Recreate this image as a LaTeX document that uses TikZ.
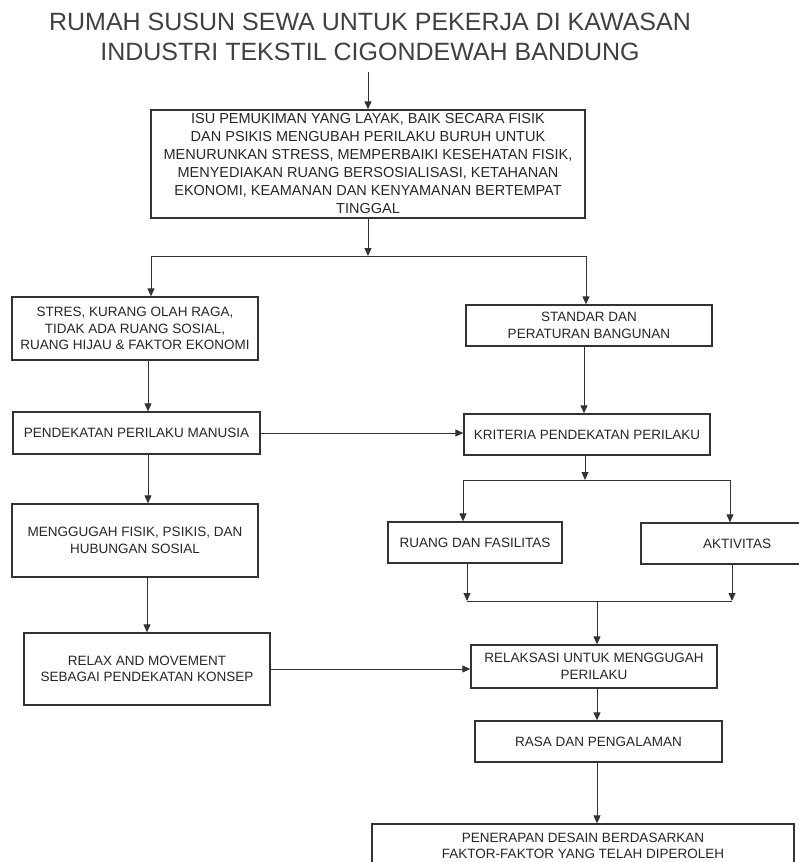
\documentclass[tikz,border=0pt]{standalone}
\usepackage{fontspec}
\setmainfont{Liberation Sans}
\usetikzlibrary{arrows.meta}
\tikzset{
  box/.style={draw=black!80, line width=1.3pt, inner sep=0pt, align=center,
    font=\fontsize{13.5}{16.5}\selectfont, text=black!85},
  arr/.style={line width=0.9pt, draw=black!80, -{Triangle[length=8pt,width=7pt]}},
  ln/.style={line width=0.9pt, draw=black!80},
}
\begin{document}
\begin{tikzpicture}[x=1pt,y=-1pt]
\useasboundingbox (0,0) rectangle (799,862);
% title
\node[align=center, inner sep=0pt, text=black!75, font=\fontsize{25}{30}\selectfont] (title) at (370,37)
  {RUMAH SUSUN SEWA UNTUK PEKERJA DI KAWASAN\\INDUSTRI TEKSTIL CIGONDEWAH BANDUNG};
\coordinate (t0) at (368,72);
% boxes
\node[box, minimum width=434, minimum height=108, font=\fontsize{14.5}{18}\selectfont] (isu) at (368,164)
  {ISU PEMUKIMAN YANG LAYAK, BAIK SECARA FISIK\\DAN PSIKIS MENGUBAH PERILAKU BURUH UNTUK\\MENURUNKAN STRESS, MEMPERBAIKI KESEHATAN FISIK,\\MENYEDIAKAN RUANG BERSOSIALISASI, KETAHANAN\\EKONOMI, KEAMANAN DAN KENYAMANAN BERTEMPAT\\TINGGAL};
\node[box, minimum width=246, minimum height=63] (stres) at (135,328.5)
  {STRES, KURANG OLAH RAGA,\\TIDAK ADA RUANG SOSIAL,\\RUANG HIJAU \& FAKTOR EKONOMI};
\node[box, minimum width=247, minimum height=42] (pend) at (136.5,433)
  {PENDEKATAN PERILAKU MANUSIA};
\node[box, minimum width=246, minimum height=73] (meng) at (135,540.5)
  {MENGGUGAH FISIK, PSIKIS, DAN\\HUBUNGAN SOSIAL};
\node[box, minimum width=246, minimum height=72] (relax) at (147,669)
  {RELAX AND MOVEMENT\\SEBAGAI PENDEKATAN KONSEP};
\node[box, minimum width=246, minimum height=41] (std) at (589,325.5)
  {STANDAR DAN\\PERATURAN BANGUNAN};
\node[box, minimum width=246, minimum height=41] (krit) at (587,434.5)
  {KRITERIA PENDEKATAN PERILAKU};
\node[box, minimum width=174, minimum height=41] (ruang) at (475,542.5)
  {RUANG DAN FASILITAS};
\node[box, minimum width=192, minimum height=41] (akt) at (737,543.5)
  {AKTIVITAS};
\node[box, minimum width=246, minimum height=43] (rel) at (594,666.5)
  {RELAKSASI UNTUK MENGGUGAH\\PERILAKU};
\node[box, minimum width=247, minimum height=41] (rasa) at (598.5,741.5)
  {RASA DAN PENGALAMAN};
\node[box, minimum width=422, minimum height=44] (pen) at (583,846)
  {PENERAPAN DESAIN BERDASARKAN\\FAKTOR-FAKTOR YANG TELAH DIPEROLEH};
% junction coordinates
\coordinate (j1) at (368,256);
\coordinate (j1l) at (151,256);
\coordinate (j1r) at (586,256);
\coordinate (j2) at (585,480);
\coordinate (j2l) at (463,480);
\coordinate (j2r) at (730,480);
\coordinate (j3) at (597,601);
\coordinate (j3l) at (467,601);
\coordinate (j3r) at (732,601);
% connectors
\draw[arr] (t0) -- (isu.north);
\draw[arr] (isu.south) -- (j1);
\draw[ln] (j1l) -- (j1r);
\draw[arr] (j1l) -- (j1l |- stres.north);
\draw[arr] (j1r) -- (j1r |- std.north);
\draw[arr] ([xshift=13pt]stres.south) -- ([xshift=11.5pt]pend.north);
\draw[arr] ([xshift=11.5pt]pend.south) -- ([xshift=13pt]meng.north);
\draw[arr] ([xshift=12pt]meng.south) -- (relax.north);
\draw[arr] (pend.east) -- (pend.east -| krit.west);
\draw[arr] ([xshift=-5pt]std.south) -- ([xshift=-3pt]krit.north);
\draw[arr] ([xshift=-2pt]krit.south) -- (j2);
\draw[ln] (j2l) -- (j2r);
\draw[arr] (j2l) -- (j2l |- ruang.north);
\draw[arr] (j2r) -- (j2r |- akt.north);
\draw[arr] (j3l |- ruang.south) -- (j3l);
\draw[arr] (j3r |- akt.south) -- (j3r);
\draw[ln] (j3l) -- (j3r);
\draw[arr] (j3) -- (j3 |- rel.north);
\draw[arr] (relax.east) -- (relax.east -| rel.west);
\draw[arr] (j3 |- rel.south) -- (j3 |- rasa.north);
\draw[arr] (j3 |- rasa.south) -- (j3 |- pen.north);
\end{tikzpicture}
\end{document}
